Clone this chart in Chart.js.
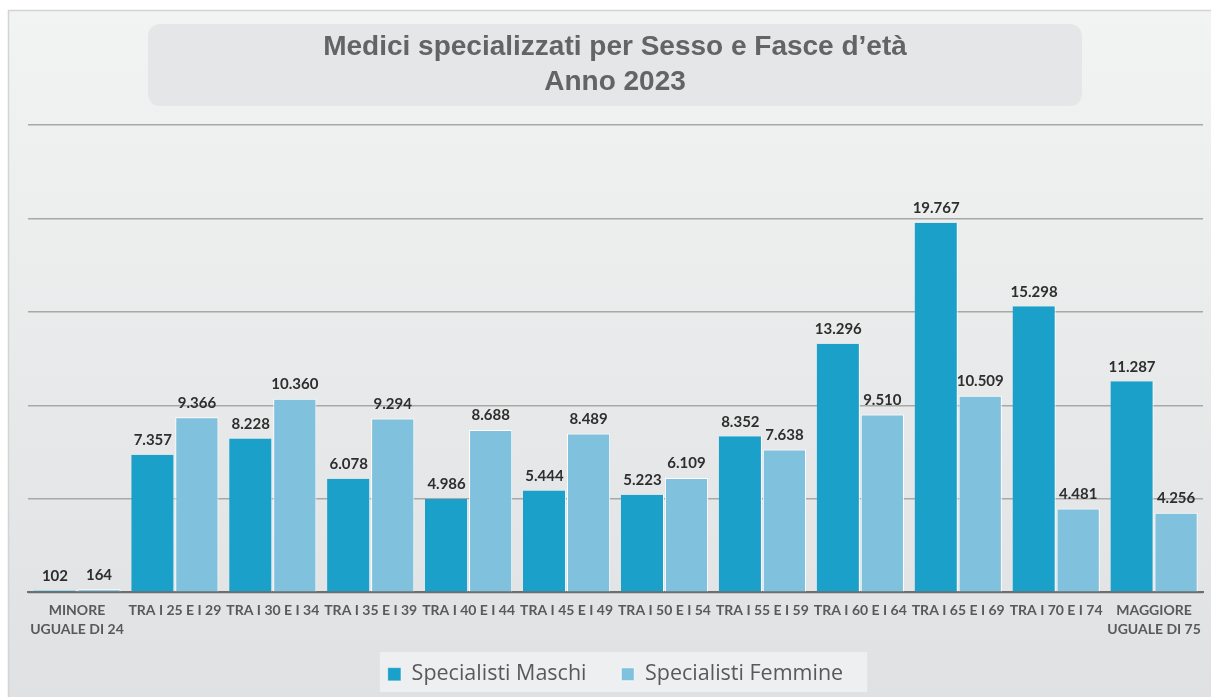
<!DOCTYPE html>
<html lang="it">
<head>
    <meta charset="UTF-8" />
    <title>Medici specializzati per Sesso e Fasce d'età</title>
    <script src="https://cdn.jsdelivr.net/npm/chart.js"></script>
    <style>
        html, body {
            margin: 0;
            padding: 0;
            background: #ffffff;
        }
        #wrap {
            width: 1211px;
            height: 697px;
        }
    </style>
</head>
<body>
    <div id="wrap"><canvas id="grafico"></canvas></div>

    <script>
        const titolo = ['Medici specializzati per Sesso e Fasce d\u2019età', 'Anno 2023'];
        const fasce = [
            ['MINORE', 'UGUALE DI 24'],
            'TRA I 25 E I 29', 'TRA I 30 E I 34', 'TRA I 35 E I 39', 'TRA I 40 E I 44',
            'TRA I 45 E I 49', 'TRA I 50 E I 54', 'TRA I 55 E I 59', 'TRA I 60 E I 64',
            'TRA I 65 E I 69', 'TRA I 70 E I 74',
            ['MAGGIORE', 'UGUALE DI 75']
        ];
        const maschi = [102, 7357, 8228, 6078, 4986, 5444, 5223, 8352, 13296, 19767, 15298, 11287];
        const femmine = [164, 9366, 10360, 9294, 8688, 8489, 6109, 7638, 9510, 10509, 4481, 4256];

        function formatta(n) {
            return String(n).replace(/\B(?=(\d{3})+(?!\d))/g, '.');
        }

        // sfondo, cornice e riquadro del titolo
        const sfondo = {
            id: 'sfondo',
            beforeDraw(chart) {
                const ctx = chart.ctx;
                ctx.save();
                const g = ctx.createLinearGradient(0, 10, 0, 697);
                g.addColorStop(0, '#f2f3f3');
                g.addColorStop(1, '#e0e1e2');
                ctx.fillStyle = g;
                ctx.fillRect(8, 10, 1203, 687);
                ctx.strokeStyle = '#d4d4d4';
                ctx.lineWidth = 1.5;
                ctx.strokeRect(8.5, 10.5, 1210, 690);

                ctx.fillStyle = '#e5e6e8';
                ctx.beginPath();
                ctx.roundRect(148, 24, 934, 82, 12);
                ctx.fill();

                ctx.fillStyle = '#646464';
                ctx.font = 'bold 28px "Liberation Sans", Arial, sans-serif';
                ctx.textAlign = 'center';
                ctx.textBaseline = 'middle';
                ctx.fillText(titolo[0], 615, 47);
                ctx.fillText(titolo[1], 615, 82);

                const lg = chart.legend;
                if (lg && lg.legendHitBoxes && lg.legendHitBoxes.length) {
                    const boxes = lg.legendHitBoxes;
                    const l = Math.min(...boxes.map(b => b.left)) - 8;
                    const r = Math.max(...boxes.map(b => b.left + b.width)) + 24;
                    ctx.fillStyle = '#eeeff0';
                    ctx.fillRect(l, 652, r - l, 40);
                }
                ctx.restore();
            }
        };

        // etichette dei valori sopra le barre
        const etichette = {
            id: 'etichette',
            afterDatasetsDraw(chart) {
                const ctx = chart.ctx;
                ctx.save();
                ctx.fillStyle = '#2e2e2e';
                ctx.font = 'bold 15px Lato, "Open Sans", sans-serif';
                ctx.textAlign = 'center';
                ctx.textBaseline = 'bottom';
                chart.data.datasets.forEach((ds, i) => {
                    chart.getDatasetMeta(i).data.forEach((bar, j) => {
                        ctx.fillText(formatta(ds.data[j]), bar.x, bar.y - 7);
                    });
                });
                ctx.restore();
            }
        };

        new Chart(document.getElementById('grafico'), {
            type: 'bar',
            data: {
                labels: fasce,
                datasets: [{
                    label: 'Specialisti Maschi',
                    data: maschi,
                    backgroundColor: '#1ba1c9',
                    borderColor: '#ffffff',
                    borderWidth: { right: 1 },
                    categoryPercentage: 0.9,
                    barPercentage: 0.98
                }, {
                    label: 'Specialisti Femmine',
                    data: femmine,
                    backgroundColor: '#80c1de',
                    borderColor: '#ffffff',
                    borderWidth: { left: 1, right: 1, top: 1 },
                    categoryPercentage: 0.9,
                    barPercentage: 0.98
                }]
            },
            options: {
                responsive: true,
                maintainAspectRatio: false,
                animation: false,
                layout: {
                    padding: { left: 28, right: 8, top: 125, bottom: 2 }
                },
                plugins: {
                    title: { display: false },
                    tooltip: { enabled: false },
                    legend: {
                        position: 'bottom',
                        labels: {
                            boxWidth: 13,
                            boxHeight: 13,
                            padding: 24,
                            color: '#595959',
                            font: { family: '"Open Sans", sans-serif', size: 21.5 },
                            // un po' più di spazio tra le due voci
                            generateLabels(chart) {
                                const items = Chart.defaults.plugins.legend.labels.generateLabels(chart);
                                items[0].text += '\u2002';
                                return items;
                            }
                        }
                    }
                },
                scales: {
                    x: {
                        grid: { display: false },
                        border: { display: true, color: '#6e6e6e', width: 2 },
                        ticks: {
                            color: '#595959',
                            autoSkip: false,
                            maxRotation: 0,
                            padding: 0,
                            font: { family: 'Lato, sans-serif', size: 14, weight: 'bold', lineHeight: 1.4 }
                        }
                    },
                    y: {
                        min: 0,
                        max: 25000,
                        ticks: { display: false, stepSize: 5000 },
                        border: { display: false },
                        grid: {
                            color: '#a8a8a8',
                            lineWidth: 1.5,
                            drawTicks: false
                        }
                    }
                }
            },
            plugins: [sfondo, etichette]
        });
    </script>
</body>
</html>
